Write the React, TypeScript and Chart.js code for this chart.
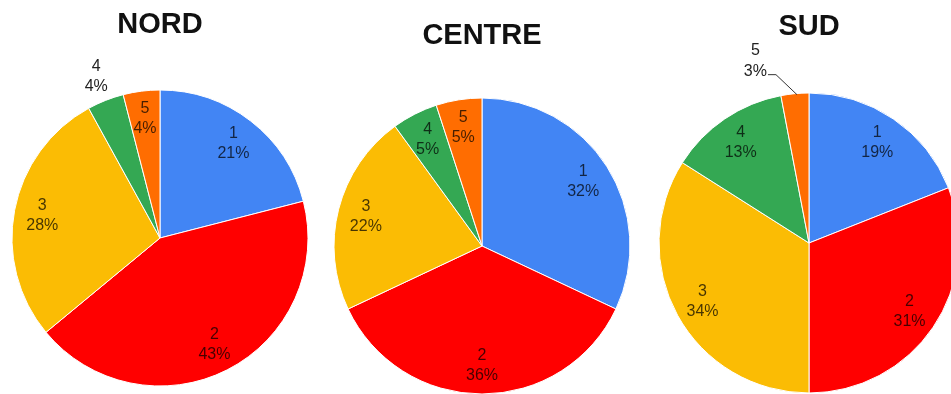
import React, { useEffect, useRef } from "react";
import { Chart, registerables } from "chart.js";

Chart.register(...registerables);

// ---- data ----
const categories = ["1", "2", "3", "4", "5"];
const nordValues = [21, 43, 28, 4, 4];
const centreValues = [32, 36, 22, 5, 5];
const sudValues = [19, 31, 34, 13, 3];
const pieTitles = ["NORD", "CENTRE", "SUD"];
const sliceColors = ["#4285F4", "#FF0000", "#FBBC04", "#34A853", "#FF6D01"];
// label placement per slice: 0 = inside, 1 = outside, 2 = outside with leader line
const nordLabelModes = [0, 0, 0, 1, 0];
const centreLabelModes = [0, 0, 0, 0, 0];
const sudLabelModes = [0, 0, 0, 0, 2];

// ---- layout ----
const W = 951;
const H = 394;
const pies = [
  { values: nordValues, modes: nordLabelModes, title: pieTitles[0], cx: 160, cy: 238, r: 148, titleY: 25 },
  { values: centreValues, modes: centreLabelModes, title: pieTitles[1], cx: 482, cy: 246, r: 148, titleY: 36 },
  { values: sudValues, modes: sudLabelModes, title: pieTitles[2], cx: 809, cy: 243, r: 150, titleY: 27 },
];

const FONT = "'Liberation Sans', Arial, Helvetica, sans-serif";
const TITLE_SIZE = 29;
const TITLE_LH = 1.2;

function makeLabelPlugin(modes: number[]) {
  return {
    id: "sliceLabels",
    afterDatasetsDraw(chart: any) {
      const ctx = chart.ctx;
      const meta = chart.getDatasetMeta(0);
      const data: number[] = chart.data.datasets[0].data;
      const total = data.reduce((s, v) => s + v, 0);
      ctx.save();
      ctx.font = `16px ${FONT}`;
      ctx.textAlign = "center";
      ctx.textBaseline = "middle";
      const step = 20;
      meta.data.forEach((arc: any, i: number) => {
        const p = arc.getProps(["x", "y", "startAngle", "endAngle", "outerRadius"], true);
        const mid = (p.startAngle + p.endAngle) / 2;
        const c = Math.cos(mid);
        const s = Math.sin(mid);
        const l1 = String(chart.data.labels[i]);
        const l2 = Math.round((data[i] / total) * 100) + "%";
        const mode = modes[i];
        if (mode === 0) {
          const tx = p.x + c * p.outerRadius * 0.81;
          const ty = p.y + s * p.outerRadius * 0.81;
          ctx.fillStyle = "rgba(0,0,0,0.72)";
          ctx.fillText(l1, tx, ty - step / 2);
          ctx.fillText(l2, tx, ty + step / 2);
        } else if (mode === 1) {
          const tx = p.x + c * p.outerRadius * 1.17;
          const ty = p.y + s * p.outerRadius * 1.17;
          ctx.fillStyle = "#222";
          ctx.fillText(l1, tx, ty - step / 2);
          ctx.fillText(l2, tx, ty + step / 2);
        } else {
          const ax = p.x + c * (p.outerRadius - 1) + 2;
          const ay = p.y + s * (p.outerRadius - 1);
          const ex = ax - 21;
          const ey = ay - 20;
          const hx = ex - 8;
          ctx.strokeStyle = "#333";
          ctx.lineWidth = 1;
          ctx.beginPath();
          ctx.moveTo(ax, ay);
          ctx.lineTo(ex, ey);
          ctx.lineTo(hx, ey);
          ctx.stroke();
          const w = ctx.measureText(l2).width;
          const tx = hx - 1 - w / 2;
          const ty2 = ey - 3;
          ctx.fillStyle = "#222";
          ctx.fillText(l2, tx, ty2);
          ctx.fillText(l1, tx, ty2 - 21);
        }
      });
      ctx.restore();
    },
  };
}

function PieCanvas({ cfg }: { cfg: (typeof pies)[number] }) {
  const ref = useRef<HTMLCanvasElement>(null);
  useEffect(() => {
    if (!ref.current) return;
    const { cx, cy, r, titleY } = cfg;
    const a = Math.min(cx, W - cx) - 1;
    const b = 60;
    const titlePadTop = titleY - (TITLE_SIZE * TITLE_LH) / 2;
    const areaTop = cy - b;
    const titlePadBottom = areaTop - titlePadTop - TITLE_SIZE * TITLE_LH;
    const chart = new Chart(ref.current, {
      type: "pie",
      data: {
        labels: categories,
        datasets: [
          {
            data: cfg.values,
            backgroundColor: sliceColors,
            borderColor: "#ffffff",
            borderWidth: 1,
            hoverOffset: 0,
            radius: r,
            clip: false,
          } as any,
        ],
      },
      options: {
        responsive: false,
        animation: false,
        devicePixelRatio: 1,
        layout: {
          padding: { left: cx - a, right: W - cx - a, top: 0, bottom: H - (cy + b) },
        },
        plugins: {
          legend: { display: false },
          tooltip: { enabled: false },
          title: {
            display: true,
            text: cfg.title,
            color: "#111",
            font: { family: FONT, size: TITLE_SIZE, weight: "bold", lineHeight: TITLE_LH },
            padding: { top: titlePadTop, bottom: titlePadBottom },
          },
        },
      },
      plugins: [makeLabelPlugin(cfg.modes)],
    });
    return () => chart.destroy();
  }, [cfg]);
  return (
    <canvas
      ref={ref}
      width={W}
      height={H}
      style={{ position: "absolute", left: 0, top: 0, width: W, height: H }}
    />
  );
}

export default function App() {
  return (
    <div
      style={{
        position: "fixed",
        left: 0,
        top: 0,
        width: W,
        height: H,
        overflow: "hidden",
        background: "#ffffff",
      }}
    >
      {pies.map((p) => (
        <PieCanvas key={p.title} cfg={p} />
      ))}
    </div>
  );
}
